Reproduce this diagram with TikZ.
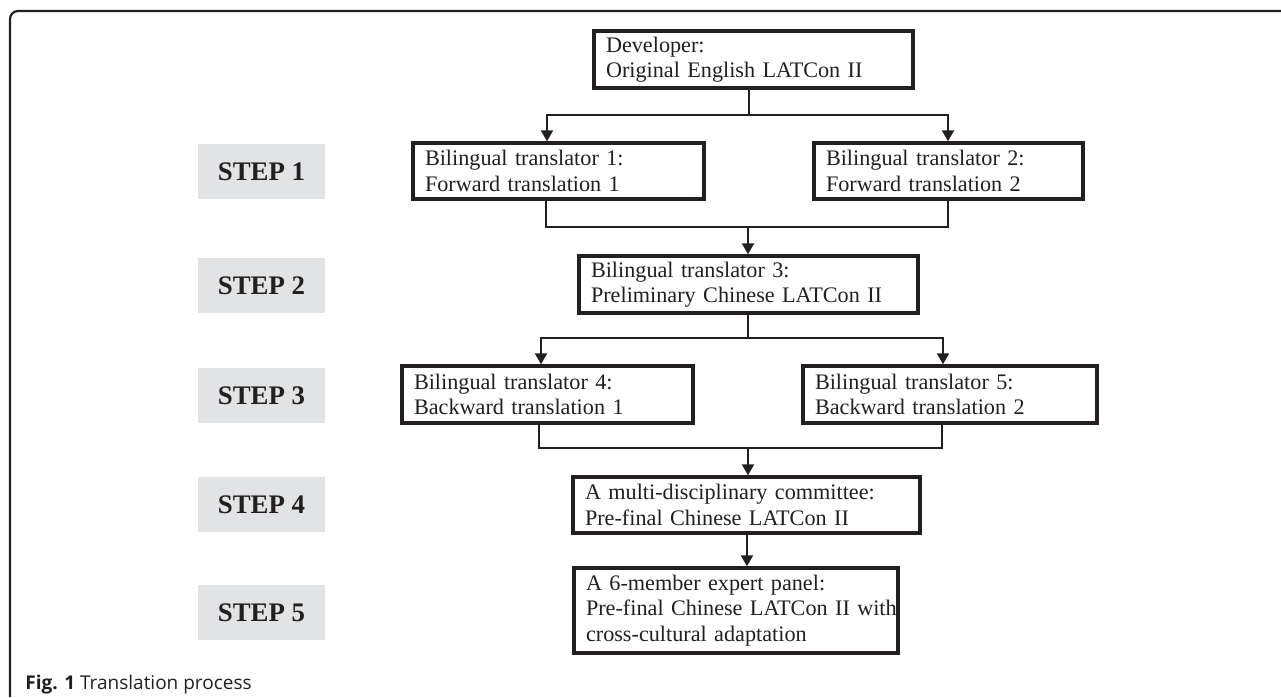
\documentclass[tikz,border=0pt]{standalone}
\usepackage{fontspec}
\setmainfont{Liberation Serif}
\newfontfamily\captionfont{Open Sans}
\usetikzlibrary{arrows.meta}

\definecolor{ink}{RGB}{35,31,32}
\definecolor{stepgray}{RGB}{226,227,229}

\tikzset{
    stepbox/.style={fill=stepgray, minimum width=63.5pt, minimum height=27.5pt,
        inner sep=0pt, text=ink, font=\fontsize{13.4}{16}\selectfont\bfseries},
    transbox/.style={draw=ink, line width=1.7pt, fill=white, align=left, text=ink,
        inner xsep=6pt, inner ysep=0pt, font=\fontsize{11.1}{12.7}\selectfont},
    link/.style={draw=ink, line width=1.1pt},
    arr/.style={link, -{Triangle[width=6pt,length=5.5pt]}},
}

\begin{document}
\begin{tikzpicture}[x=0.5pt,y=-0.5pt]

    \useasboundingbox (0,0) rectangle (1281,697);

    % The frame
    \draw[ink, line width=1.1pt, rounded corners=4pt] (10,697) -- (10,11) -- (1281,11);

    % The steps
    \node[stepbox] (step1) at (261.5,171.5) {STEP 1};
    \node[stepbox] (step2) at (261.5,285.5) {STEP 2};
    \node[stepbox] (step3) at (261.5,395.5) {STEP 3};
    \node[stepbox] (step4) at (261.5,504.5) {STEP 4};
    \node[stepbox] (step5) at (261.5,612.5) {STEP 5};

    % The boxes
    \node[transbox, text width=147.5pt, minimum height=28.5pt] (dev) at (753.5,59.5)
        {\mbox{Developer:}\\\mbox{Original English LATCon II}};
    \node[transbox, text width=133.5pt, minimum height=28pt] (bt1) at (558.5,171)
        {\mbox{Bilingual translator 1:}\\\mbox{Forward translation 1}};
    \node[transbox, text width=122.5pt, minimum height=28pt] (bt2) at (948.5,171)
        {\mbox{Bilingual translator 2:}\\\mbox{Forward translation 2}};
    \node[transbox, text width=157.5pt, minimum height=28.5pt] (bt3) at (748.5,284.5)
        {\mbox{Bilingual translator 3:}\\\mbox{Preliminary Chinese LATCon II}};
    \node[transbox, text width=133.5pt, minimum height=28.5pt] (bt4) at (547.5,394.5)
        {\mbox{Bilingual translator 4:}\\\mbox{Backward translation 1}};
    \node[transbox, text width=135pt, minimum height=28.5pt] (bt5) at (950,394.5)
        {\mbox{Bilingual translator 5:}\\\mbox{Backward translation 2}};
    \node[transbox, text width=161.5pt, minimum height=28pt] (com) at (746.5,505)
        {\mbox{A multi-disciplinary committee:}\\\mbox{Pre-final Chinese LATCon II}};
    \node[transbox, text width=150pt, minimum height=42.5pt] (exp) at (736,610.5)
        {\mbox{A 6-member expert panel:}\\\mbox{Pre-final Chinese LATCon II with}\\\mbox{cross-cultural adaptation}};

    % The connectors
    \coordinate (s1) at (749,115);
    \coordinate (l1) at (547,115);
    \coordinate (r1) at (948,115);
    \draw[arr] (dev.south -| s1) |- (l1) -- (bt1.north -| l1);
    \draw[arr] (s1) -| (bt2.north -| r1);

    \coordinate (s2) at (748,227);
    \coordinate (l2) at (546,227);
    \coordinate (r2) at (948,227);
    \draw[link] (bt1.south -| l2) |- (r2) -- (bt2.south -| r2);
    \draw[arr] (s2) -- (bt3.north -| s2);

    \coordinate (s3) at (748,338);
    \coordinate (l3) at (541,338);
    \coordinate (r3) at (943,338);
    \draw[arr] (bt3.south -| s3) |- (l3) -- (bt4.north -| l3);
    \draw[arr] (s3) -| (bt5.north -| r3);

    \coordinate (s4) at (748,448);
    \coordinate (l4) at (539,448);
    \coordinate (r4) at (942,448);
    \draw[link] (bt4.south -| l4) |- (r4) -- (bt5.south -| r4);
    \draw[arr] (s4) -- (com.north -| s4);

    \coordinate (s5) at (747,533);
    \draw[arr] (com.south -| s5) -- (exp.north -| s5);

    % The caption
    \node[anchor=base west, inner sep=0pt, text=ink, font=\captionfont\fontsize{9.5}{12}\selectfont]
        (cap) at (25,689) {\textbf{Fig. 1} Translation process};
\end{tikzpicture}
\end{document}
